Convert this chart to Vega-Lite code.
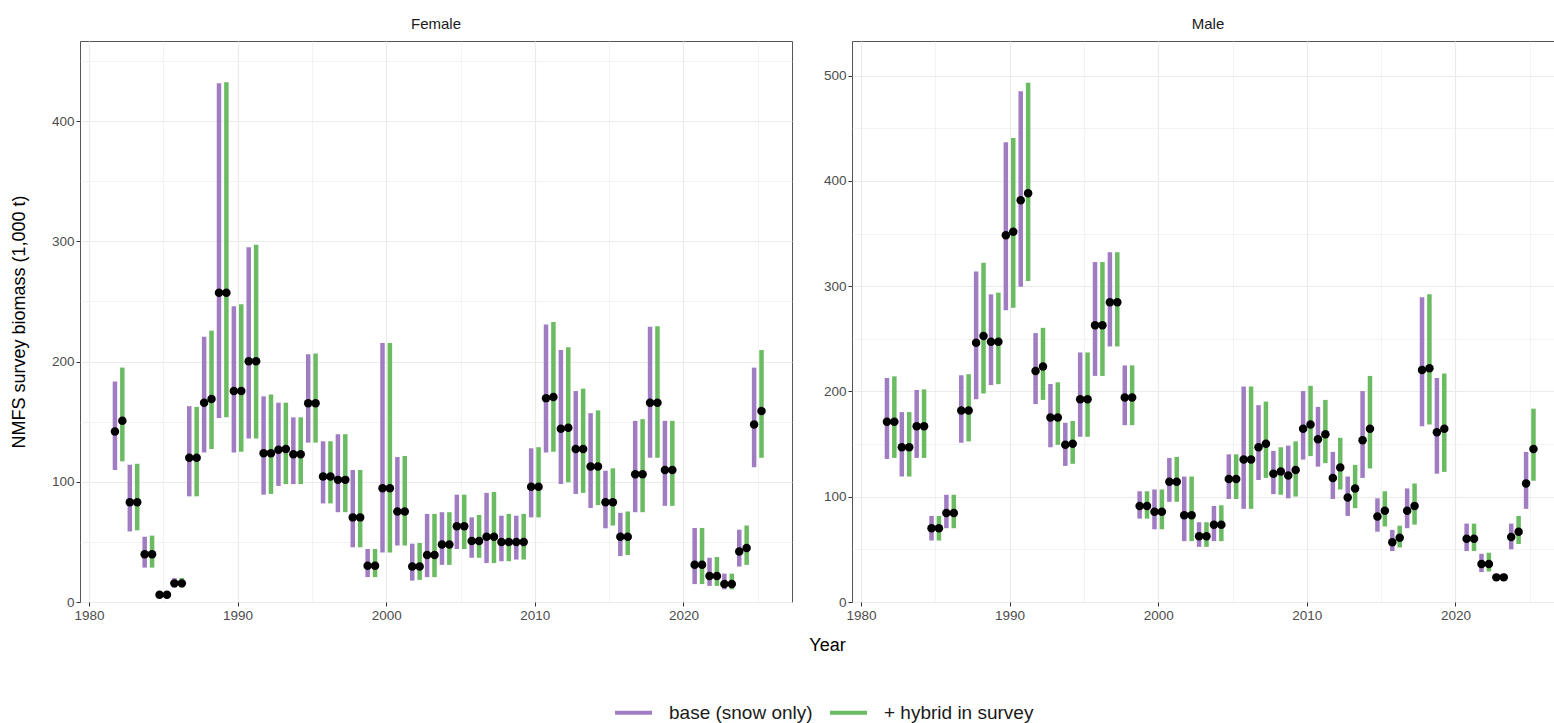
{
"$schema": "https://vega.github.io/schema/vega-lite/v6.json",
"background": "white",
"padding": {"left": 9, "top": 6, "right": 0, "bottom": 0},
"datasets": {
"panels": [{"sex": "Female"}, {"sex": "Male"}],
"d": [
{"sex":"Female","year":1982,"model":"base (snow only)","est":141.9,"lo":109.8,"hi":183.4},
{"sex":"Female","year":1982,"model":"+ hybrid in survey","est":150.7,"lo":117,"hi":195},
{"sex":"Female","year":1983,"model":"base (snow only)","est":82.9,"lo":58.7,"hi":114.2},
{"sex":"Female","year":1983,"model":"+ hybrid in survey","est":82.9,"lo":59.6,"hi":115},
{"sex":"Female","year":1984,"model":"base (snow only)","est":39.7,"lo":28.6,"hi":54.3},
{"sex":"Female","year":1984,"model":"+ hybrid in survey","est":39.7,"lo":28.6,"hi":55.2},
{"sex":"Female","year":1985,"model":"base (snow only)","est":6,"lo":4,"hi":8},
{"sex":"Female","year":1985,"model":"+ hybrid in survey","est":6,"lo":4,"hi":8.5},
{"sex":"Female","year":1986,"model":"base (snow only)","est":15.5,"lo":12,"hi":19.9},
{"sex":"Female","year":1986,"model":"+ hybrid in survey","est":15.5,"lo":12,"hi":20},
{"sex":"Female","year":1987,"model":"base (snow only)","est":120,"lo":87.9,"hi":162.9},
{"sex":"Female","year":1987,"model":"+ hybrid in survey","est":120,"lo":87.9,"hi":162.3},
{"sex":"Female","year":1988,"model":"base (snow only)","est":165.8,"lo":124.4,"hi":220.7},
{"sex":"Female","year":1988,"model":"+ hybrid in survey","est":168.8,"lo":127.3,"hi":225.7},
{"sex":"Female","year":1989,"model":"base (snow only)","est":257.2,"lo":153,"hi":431.5},
{"sex":"Female","year":1989,"model":"+ hybrid in survey","est":257.2,"lo":153.6,"hi":432.4},
{"sex":"Female","year":1990,"model":"base (snow only)","est":175.5,"lo":124.4,"hi":246.1},
{"sex":"Female","year":1990,"model":"+ hybrid in survey","est":175.5,"lo":125,"hi":247.6},
{"sex":"Female","year":1991,"model":"base (snow only)","est":200.3,"lo":136.1,"hi":295.2},
{"sex":"Female","year":1991,"model":"+ hybrid in survey","est":200.3,"lo":136.1,"hi":297.2},
{"sex":"Female","year":1992,"model":"base (snow only)","est":123.8,"lo":89.3,"hi":171.1},
{"sex":"Female","year":1992,"model":"+ hybrid in survey","est":123.8,"lo":89.9,"hi":172.6},
{"sex":"Female","year":1993,"model":"base (snow only)","est":126.7,"lo":96.6,"hi":165.8},
{"sex":"Female","year":1993,"model":"+ hybrid in survey","est":127.3,"lo":98.1,"hi":165.8},
{"sex":"Female","year":1994,"model":"base (snow only)","est":122.9,"lo":98.1,"hi":153.6},
{"sex":"Female","year":1994,"model":"+ hybrid in survey","est":122.9,"lo":98.1,"hi":153.6},
{"sex":"Female","year":1995,"model":"base (snow only)","est":165.3,"lo":132.6,"hi":206.1},
{"sex":"Female","year":1995,"model":"+ hybrid in survey","est":165.3,"lo":132.6,"hi":206.7},
{"sex":"Female","year":1996,"model":"base (snow only)","est":104.5,"lo":82,"hi":133.7},
{"sex":"Female","year":1996,"model":"+ hybrid in survey","est":104.5,"lo":82,"hi":133.7},
{"sex":"Female","year":1997,"model":"base (snow only)","est":101.6,"lo":74.7,"hi":139.6},
{"sex":"Female","year":1997,"model":"+ hybrid in survey","est":101.6,"lo":74.7,"hi":139.6},
{"sex":"Female","year":1998,"model":"base (snow only)","est":70.4,"lo":45.5,"hi":109.8},
{"sex":"Female","year":1998,"model":"+ hybrid in survey","est":70.4,"lo":45.5,"hi":109.8},
{"sex":"Female","year":1999,"model":"base (snow only)","est":30.1,"lo":20.7,"hi":44.1},
{"sex":"Female","year":1999,"model":"+ hybrid in survey","est":30.1,"lo":20.7,"hi":44.1},
{"sex":"Female","year":2000,"model":"base (snow only)","est":94.6,"lo":41.2,"hi":215.5},
{"sex":"Female","year":2000,"model":"+ hybrid in survey","est":94.6,"lo":41.2,"hi":215.5},
{"sex":"Female","year":2001,"model":"base (snow only)","est":75.3,"lo":47,"hi":120.6},
{"sex":"Female","year":2001,"model":"+ hybrid in survey","est":75.3,"lo":47,"hi":121.5},
{"sex":"Female","year":2002,"model":"base (snow only)","est":29.5,"lo":17.8,"hi":48.5},
{"sex":"Female","year":2002,"model":"+ hybrid in survey","est":29.5,"lo":18.4,"hi":49.1},
{"sex":"Female","year":2003,"model":"base (snow only)","est":39.1,"lo":20.7,"hi":73.3},
{"sex":"Female","year":2003,"model":"+ hybrid in survey","est":39.1,"lo":20.7,"hi":73.3},
{"sex":"Female","year":2004,"model":"base (snow only)","est":47.9,"lo":30.9,"hi":74.7},
{"sex":"Female","year":2004,"model":"+ hybrid in survey","est":47.9,"lo":30.9,"hi":74.7},
{"sex":"Female","year":2005,"model":"base (snow only)","est":63.1,"lo":44.1,"hi":89.3},
{"sex":"Female","year":2005,"model":"+ hybrid in survey","est":63.1,"lo":44.1,"hi":89.3},
{"sex":"Female","year":2006,"model":"base (snow only)","est":50.8,"lo":36.8,"hi":70.4},
{"sex":"Female","year":2006,"model":"+ hybrid in survey","est":50.8,"lo":36.8,"hi":72.4},
{"sex":"Female","year":2007,"model":"base (snow only)","est":54.3,"lo":32.4,"hi":90.8},
{"sex":"Female","year":2007,"model":"+ hybrid in survey","est":54.3,"lo":32.4,"hi":91.5},
{"sex":"Female","year":2008,"model":"base (snow only)","est":49.9,"lo":33.9,"hi":71.8},
{"sex":"Female","year":2008,"model":"+ hybrid in survey","est":49.9,"lo":33.9,"hi":73.3},
{"sex":"Female","year":2009,"model":"base (snow only)","est":49.9,"lo":35.3,"hi":71.8},
{"sex":"Female","year":2009,"model":"+ hybrid in survey","est":49.9,"lo":35.3,"hi":73.3},
{"sex":"Female","year":2010,"model":"base (snow only)","est":95.8,"lo":70.4,"hi":127.9},
{"sex":"Female","year":2010,"model":"+ hybrid in survey","est":95.8,"lo":70.4,"hi":128.8},
{"sex":"Female","year":2011,"model":"base (snow only)","est":169.6,"lo":124.4,"hi":230.9},
{"sex":"Female","year":2011,"model":"+ hybrid in survey","est":170.5,"lo":125,"hi":233},
{"sex":"Female","year":2012,"model":"base (snow only)","est":144.2,"lo":98.1,"hi":209.6},
{"sex":"Female","year":2012,"model":"+ hybrid in survey","est":145,"lo":99.6,"hi":212},
{"sex":"Female","year":2013,"model":"base (snow only)","est":127.3,"lo":89.9,"hi":175.5},
{"sex":"Female","year":2013,"model":"+ hybrid in survey","est":127.3,"lo":90.8,"hi":177.5},
{"sex":"Female","year":2014,"model":"base (snow only)","est":112.7,"lo":78.2,"hi":157.1},
{"sex":"Female","year":2014,"model":"+ hybrid in survey","est":112.7,"lo":80.6,"hi":159.4},
{"sex":"Female","year":2015,"model":"base (snow only)","est":82.9,"lo":61.3,"hi":109.2},
{"sex":"Female","year":2015,"model":"+ hybrid in survey","est":82.9,"lo":63.6,"hi":111.2},
{"sex":"Female","year":2016,"model":"base (snow only)","est":54.3,"lo":38.2,"hi":74.2},
{"sex":"Female","year":2016,"model":"+ hybrid in survey","est":54.3,"lo":39.1,"hi":75.3},
{"sex":"Female","year":2017,"model":"base (snow only)","est":106.3,"lo":74.7,"hi":150.7},
{"sex":"Female","year":2017,"model":"+ hybrid in survey","est":106.3,"lo":74.7,"hi":152.1},
{"sex":"Female","year":2018,"model":"base (snow only)","est":165.8,"lo":120,"hi":228.9},
{"sex":"Female","year":2018,"model":"+ hybrid in survey","est":165.8,"lo":120,"hi":229.5},
{"sex":"Female","year":2019,"model":"base (snow only)","est":109.8,"lo":80,"hi":150.7},
{"sex":"Female","year":2019,"model":"+ hybrid in survey","est":109.8,"lo":80,"hi":150.7},
{"sex":"Female","year":2021,"model":"base (snow only)","est":30.9,"lo":14.9,"hi":61.6},
{"sex":"Female","year":2021,"model":"+ hybrid in survey","est":30.9,"lo":14.9,"hi":61.6},
{"sex":"Female","year":2022,"model":"base (snow only)","est":21.6,"lo":13.4,"hi":36.8},
{"sex":"Female","year":2022,"model":"+ hybrid in survey","est":21.6,"lo":13.4,"hi":37.4},
{"sex":"Female","year":2023,"model":"base (snow only)","est":14.9,"lo":10.5,"hi":23.6},
{"sex":"Female","year":2023,"model":"+ hybrid in survey","est":14.9,"lo":10.5,"hi":23.6},
{"sex":"Female","year":2024,"model":"base (snow only)","est":42,"lo":29.5,"hi":60.1},
{"sex":"Female","year":2024,"model":"+ hybrid in survey","est":45,"lo":30.9,"hi":63.6},
{"sex":"Female","year":2025,"model":"base (snow only)","est":147.7,"lo":112.1,"hi":195},
{"sex":"Female","year":2025,"model":"+ hybrid in survey","est":158.8,"lo":120,"hi":209.6},
{"sex":"Male","year":1982,"model":"base (snow only)","est":171.3,"lo":135.9,"hi":212.8},
{"sex":"Male","year":1982,"model":"+ hybrid in survey","est":171.3,"lo":136.9,"hi":214.4},
{"sex":"Male","year":1983,"model":"base (snow only)","est":147,"lo":119.2,"hi":180.4},
{"sex":"Male","year":1983,"model":"+ hybrid in survey","est":147,"lo":119.2,"hi":180.4},
{"sex":"Male","year":1984,"model":"base (snow only)","est":167,"lo":136.9,"hi":201.4},
{"sex":"Male","year":1984,"model":"+ hybrid in survey","est":167,"lo":136.9,"hi":202},
{"sex":"Male","year":1985,"model":"base (snow only)","est":70.1,"lo":58.4,"hi":81.8},
{"sex":"Male","year":1985,"model":"+ hybrid in survey","est":70.1,"lo":58.4,"hi":81.8},
{"sex":"Male","year":1986,"model":"base (snow only)","est":84.5,"lo":70.1,"hi":101.9},
{"sex":"Male","year":1986,"model":"+ hybrid in survey","est":84.5,"lo":70.1,"hi":101.9},
{"sex":"Male","year":1987,"model":"base (snow only)","est":182,"lo":151.3,"hi":215.4},
{"sex":"Male","year":1987,"model":"+ hybrid in survey","est":182,"lo":152.6,"hi":216.4},
{"sex":"Male","year":1988,"model":"base (snow only)","est":246.2,"lo":192.7,"hi":314},
{"sex":"Male","year":1988,"model":"+ hybrid in survey","est":252.8,"lo":198,"hi":322.3},
{"sex":"Male","year":1989,"model":"base (snow only)","est":247.2,"lo":206.1,"hi":292.3},
{"sex":"Male","year":1989,"model":"+ hybrid in survey","est":247.2,"lo":207,"hi":293.9},
{"sex":"Male","year":1990,"model":"base (snow only)","est":348.4,"lo":277.2,"hi":436.9},
{"sex":"Male","year":1990,"model":"+ hybrid in survey","est":351.7,"lo":279.6,"hi":440.9},
{"sex":"Male","year":1991,"model":"base (snow only)","est":381.8,"lo":299.6,"hi":485.3},
{"sex":"Male","year":1991,"model":"+ hybrid in survey","est":388.4,"lo":304.9,"hi":493.3},
{"sex":"Male","year":1992,"model":"base (snow only)","est":219.4,"lo":188,"hi":255.5},
{"sex":"Male","year":1992,"model":"+ hybrid in survey","est":223.8,"lo":192,"hi":260.5},
{"sex":"Male","year":1993,"model":"base (snow only)","est":175.4,"lo":147,"hi":207.1},
{"sex":"Male","year":1993,"model":"+ hybrid in survey","est":175.4,"lo":149.3,"hi":208.7},
{"sex":"Male","year":1994,"model":"base (snow only)","est":149.3,"lo":129.3,"hi":170.3},
{"sex":"Male","year":1994,"model":"+ hybrid in survey","est":150.3,"lo":131.3,"hi":172},
{"sex":"Male","year":1995,"model":"base (snow only)","est":192.7,"lo":157,"hi":237.1},
{"sex":"Male","year":1995,"model":"+ hybrid in survey","est":192.7,"lo":157,"hi":237.1},
{"sex":"Male","year":1996,"model":"base (snow only)","est":262.9,"lo":214.8,"hi":323},
{"sex":"Male","year":1996,"model":"+ hybrid in survey","est":262.9,"lo":214.8,"hi":323},
{"sex":"Male","year":1997,"model":"base (snow only)","est":284.9,"lo":242.8,"hi":332.3},
{"sex":"Male","year":1997,"model":"+ hybrid in survey","est":284.9,"lo":242.8,"hi":332.3},
{"sex":"Male","year":1998,"model":"base (snow only)","est":194.4,"lo":168,"hi":224.8},
{"sex":"Male","year":1998,"model":"+ hybrid in survey","est":194.4,"lo":168,"hi":224.8},
{"sex":"Male","year":1999,"model":"base (snow only)","est":91.2,"lo":79.2,"hi":105.2},
{"sex":"Male","year":1999,"model":"+ hybrid in survey","est":91.2,"lo":79.2,"hi":105.2},
{"sex":"Male","year":2000,"model":"base (snow only)","est":85.8,"lo":69.1,"hi":106.9},
{"sex":"Male","year":2000,"model":"+ hybrid in survey","est":85.8,"lo":69.1,"hi":106.9},
{"sex":"Male","year":2001,"model":"base (snow only)","est":114.2,"lo":95.2,"hi":136.9},
{"sex":"Male","year":2001,"model":"+ hybrid in survey","est":114.2,"lo":95.2,"hi":137.9},
{"sex":"Male","year":2002,"model":"base (snow only)","est":82.5,"lo":57.8,"hi":119.2},
{"sex":"Male","year":2002,"model":"+ hybrid in survey","est":82.5,"lo":57.8,"hi":119.2},
{"sex":"Male","year":2003,"model":"base (snow only)","est":62.5,"lo":52.4,"hi":75.8},
{"sex":"Male","year":2003,"model":"+ hybrid in survey","est":62.5,"lo":52.4,"hi":75.8},
{"sex":"Male","year":2004,"model":"base (snow only)","est":73.5,"lo":57.8,"hi":91.2},
{"sex":"Male","year":2004,"model":"+ hybrid in survey","est":73.5,"lo":57.8,"hi":91.9},
{"sex":"Male","year":2005,"model":"base (snow only)","est":116.9,"lo":97.9,"hi":140.3},
{"sex":"Male","year":2005,"model":"+ hybrid in survey","est":116.9,"lo":97.9,"hi":140.3},
{"sex":"Male","year":2006,"model":"base (snow only)","est":135.3,"lo":88.5,"hi":204.7},
{"sex":"Male","year":2006,"model":"+ hybrid in survey","est":135.3,"lo":88.5,"hi":204.7},
{"sex":"Male","year":2007,"model":"base (snow only)","est":147,"lo":115.9,"hi":187},
{"sex":"Male","year":2007,"model":"+ hybrid in survey","est":150.3,"lo":117.9,"hi":190.4},
{"sex":"Male","year":2008,"model":"base (snow only)","est":121.9,"lo":102.5,"hi":143.6},
{"sex":"Male","year":2008,"model":"+ hybrid in survey","est":124,"lo":101.9,"hi":147},
{"sex":"Male","year":2009,"model":"base (snow only)","est":120.2,"lo":98.5,"hi":148.6},
{"sex":"Male","year":2009,"model":"+ hybrid in survey","est":125.3,"lo":100.2,"hi":152.6},
{"sex":"Male","year":2010,"model":"base (snow only)","est":164.7,"lo":135.3,"hi":200.4},
{"sex":"Male","year":2010,"model":"+ hybrid in survey","est":168.7,"lo":138.6,"hi":205.4},
{"sex":"Male","year":2011,"model":"base (snow only)","est":154.6,"lo":128.6,"hi":185.4},
{"sex":"Male","year":2011,"model":"+ hybrid in survey","est":159.3,"lo":131.9,"hi":192},
{"sex":"Male","year":2012,"model":"base (snow only)","est":117.9,"lo":97.9,"hi":142.6},
{"sex":"Male","year":2012,"model":"+ hybrid in survey","est":127.9,"lo":106.9,"hi":156},
{"sex":"Male","year":2013,"model":"base (snow only)","est":99.2,"lo":81.8,"hi":119.2},
{"sex":"Male","year":2013,"model":"+ hybrid in survey","est":107.9,"lo":89.2,"hi":130.3},
{"sex":"Male","year":2014,"model":"base (snow only)","est":153.6,"lo":117.9,"hi":200.4},
{"sex":"Male","year":2014,"model":"+ hybrid in survey","est":164.7,"lo":126.9,"hi":214.8},
{"sex":"Male","year":2015,"model":"base (snow only)","est":81.2,"lo":66.8,"hi":98.5},
{"sex":"Male","year":2015,"model":"+ hybrid in survey","est":86.8,"lo":71.8,"hi":105.2},
{"sex":"Male","year":2016,"model":"base (snow only)","est":56.8,"lo":48.4,"hi":68.5},
{"sex":"Male","year":2016,"model":"+ hybrid in survey","est":61.1,"lo":51.8,"hi":72.5},
{"sex":"Male","year":2017,"model":"base (snow only)","est":86.8,"lo":70.1,"hi":107.9},
{"sex":"Male","year":2017,"model":"+ hybrid in survey","est":91.2,"lo":73.5,"hi":112.6},
{"sex":"Male","year":2018,"model":"base (snow only)","est":220.4,"lo":167,"hi":289.6},
{"sex":"Male","year":2018,"model":"+ hybrid in survey","est":222.1,"lo":168.7,"hi":292.3},
{"sex":"Male","year":2019,"model":"base (snow only)","est":161.3,"lo":121.9,"hi":212.8},
{"sex":"Male","year":2019,"model":"+ hybrid in survey","est":164.7,"lo":123.6,"hi":217.1},
{"sex":"Male","year":2021,"model":"base (snow only)","est":60.1,"lo":48.4,"hi":74.5},
{"sex":"Male","year":2021,"model":"+ hybrid in survey","est":60.1,"lo":48.4,"hi":74.5},
{"sex":"Male","year":2022,"model":"base (snow only)","est":36.1,"lo":28.4,"hi":45.8},
{"sex":"Male","year":2022,"model":"+ hybrid in survey","est":36.1,"lo":29,"hi":46.8},
{"sex":"Male","year":2023,"model":"base (snow only)","est":23.4,"lo":20,"hi":26.7},
{"sex":"Male","year":2023,"model":"+ hybrid in survey","est":23.4,"lo":20,"hi":27},
{"sex":"Male","year":2024,"model":"base (snow only)","est":61.8,"lo":50.1,"hi":74.5},
{"sex":"Male","year":2024,"model":"+ hybrid in survey","est":66.8,"lo":55.1,"hi":81.8},
{"sex":"Male","year":2025,"model":"base (snow only)","est":112.6,"lo":88.5,"hi":142.6},
{"sex":"Male","year":2025,"model":"+ hybrid in survey","est":145.3,"lo":115.2,"hi":183.7}
]
},
"data": {"name": "d"},
"spacing": -24,
"hconcat": [
{
"bounds": "flush",
"spacing": 0,
"vconcat": [
{"width": 712, "height": 35, "data": {"name": "panels"}, "transform": [{"filter": "datum.sex === 'Female'"}],
 "mark": {"type": "text", "fontSize": 15, "color": "#1a1a1a", "font": "Liberation Sans"},
 "encoding": {"text": {"field": "sex", "type": "nominal"}}},
{"width": 712, "height": 561,
 "transform": [{"filter": "datum.sex === 'Female'"}],
 "encoding": {"x": {"field": "year", "type": "quantitative", "scale": {"domain": [1979.4, 2027.3], "nice": false, "zero": false},
   "axis": {"values": [1980,1985,1990,1995,2000,2005,2010,2015,2020,2025], "format": "d",
     "labelExpr": "datum.value % 10 === 0 ? datum.label : ''",
     "tickOpacity": {"condition": {"test": "datum.value % 10 === 0", "value": 1}, "value": 0},
     "gridWidth": {"condition": {"test": "datum.value % 10 === 0", "value": 1.2}, "value": 0.6},
     "title": "Year", "titleX": 747, "titleY": 43, "titleBaseline": "middle", "titleAlign": "center"}}},
 "layer": [
  {"transform": [{"filter": "datum.model === 'base (snow only)'"}],
   "mark": {"type": "rule", "strokeWidth": 4.5, "xOffset": -3.7},
   "encoding": {
    "y": {"field": "lo", "type": "quantitative", "scale": {"domain": [0, 466.7], "nice": false, "zero": false},
      "axis": {"values": [0,50,100,150,200,250,300,350,400,450], "labelExpr": "datum.value % 100 === 0 ? datum.label : ''",
        "tickOpacity": {"condition": {"test": "datum.value % 100 === 0", "value": 1}, "value": 0},
        "gridWidth": {"condition": {"test": "datum.value % 100 === 0", "value": 1.2}, "value": 0.6},
        "title": "NMFS survey biomass (1,000 t)", "titleX": -61, "titleY": 280.5, "titleAngle": -90, "titleBaseline": "middle", "titleAlign": "center"}},
    "y2": {"field": "hi"},
    "color": {"field": "model", "type": "nominal", "scale": {"domain": ["base (snow only)", "+ hybrid in survey"], "range": ["#A07DC2", "#6ABB62"]},
      "legend": {"orient": "none", "legendX": 533, "legendY": 686, "direction": "horizontal", "title": null, "symbolType": "stroke", "symbolStrokeWidth": 4, "symbolSize": 1369, "labelFontSize": 19, "labelColor": "#1a1a1a", "labelOffset": 15, "columnPadding": 9}}}},
  {"transform": [{"filter": "datum.model === '+ hybrid in survey'"}],
   "mark": {"type": "rule", "strokeWidth": 4.5, "xOffset": 3.7},
   "encoding": {
    "y": {"field": "lo", "type": "quantitative", "scale": {"domain": [0, 466.7], "nice": false, "zero": false},
      "axis": {"values": [0,50,100,150,200,250,300,350,400,450], "labelExpr": "datum.value % 100 === 0 ? datum.label : ''",
        "tickOpacity": {"condition": {"test": "datum.value % 100 === 0", "value": 1}, "value": 0},
        "gridWidth": {"condition": {"test": "datum.value % 100 === 0", "value": 1.2}, "value": 0.6},
        "title": "NMFS survey biomass (1,000 t)", "titleX": -61, "titleY": 280.5, "titleAngle": -90, "titleBaseline": "middle", "titleAlign": "center"}},
    "y2": {"field": "hi"},
    "color": {"field": "model", "type": "nominal", "scale": {"domain": ["base (snow only)", "+ hybrid in survey"], "range": ["#A07DC2", "#6ABB62"]},
      "legend": {"orient": "none", "legendX": 533, "legendY": 686, "direction": "horizontal", "title": null, "symbolType": "stroke", "symbolStrokeWidth": 4, "symbolSize": 1369, "labelFontSize": 19, "labelColor": "#1a1a1a", "labelOffset": 15, "columnPadding": 9}}}},
  {"transform": [{"filter": "datum.model === 'base (snow only)'"}],
   "mark": {"type": "point", "filled": true, "color": "black", "opacity": 1, "size": 72, "xOffset": -3.7},
   "encoding": {
    "y": {"field": "est", "type": "quantitative", "scale": {"domain": [0, 466.7], "nice": false, "zero": false},
      "axis": {"values": [0,50,100,150,200,250,300,350,400,450], "labelExpr": "datum.value % 100 === 0 ? datum.label : ''",
        "tickOpacity": {"condition": {"test": "datum.value % 100 === 0", "value": 1}, "value": 0},
        "gridWidth": {"condition": {"test": "datum.value % 100 === 0", "value": 1.2}, "value": 0.6},
        "title": "NMFS survey biomass (1,000 t)", "titleX": -61, "titleY": 280.5, "titleAngle": -90, "titleBaseline": "middle", "titleAlign": "center"}}}},
  {"transform": [{"filter": "datum.model === '+ hybrid in survey'"}],
   "mark": {"type": "point", "filled": true, "color": "black", "opacity": 1, "size": 72, "xOffset": 3.7},
   "encoding": {
    "y": {"field": "est", "type": "quantitative", "scale": {"domain": [0, 466.7], "nice": false, "zero": false},
      "axis": {"values": [0,50,100,150,200,250,300,350,400,450], "labelExpr": "datum.value % 100 === 0 ? datum.label : ''",
        "tickOpacity": {"condition": {"test": "datum.value % 100 === 0", "value": 1}, "value": 0},
        "gridWidth": {"condition": {"test": "datum.value % 100 === 0", "value": 1.2}, "value": 0.6},
        "title": "NMFS survey biomass (1,000 t)", "titleX": -61, "titleY": 280.5, "titleAngle": -90, "titleBaseline": "middle", "titleAlign": "center"}}}}
 ]}
]
},
{
"bounds": "flush",
"spacing": 0,
"vconcat": [
{"width": 702, "height": 35, "data": {"name": "panels"}, "transform": [{"filter": "datum.sex === 'Male'"}],
 "mark": {"type": "text", "fontSize": 15, "color": "#1a1a1a", "font": "Liberation Sans", "dx": 5},
 "encoding": {"text": {"field": "sex", "type": "nominal"}}},
{"width": 702, "height": 561,
 "transform": [{"filter": "datum.sex === 'Male'"}],
 "encoding": {"x": {"field": "year", "type": "quantitative", "scale": {"domain": [1979.4, 2026.63], "nice": false, "zero": false},
   "axis": {"values": [1980,1985,1990,1995,2000,2005,2010,2015,2020,2025], "format": "d",
     "labelExpr": "datum.value % 10 === 0 ? datum.label : ''",
     "tickOpacity": {"condition": {"test": "datum.value % 10 === 0", "value": 1}, "value": 0},
     "gridWidth": {"condition": {"test": "datum.value % 10 === 0", "value": 1.2}, "value": 0.6},
     "title": null}}},
 "layer": [
  {"transform": [{"filter": "datum.model === 'base (snow only)'"}],
   "mark": {"type": "rule", "strokeWidth": 4.5, "xOffset": -3.7},
   "encoding": {
    "y": {"field": "lo", "type": "quantitative", "scale": {"domain": [0, 533], "nice": false, "zero": false},
      "axis": {"values": [0,50,100,150,200,250,300,350,400,450,500], "labelExpr": "datum.value % 100 === 0 ? datum.label : ''",
        "tickOpacity": {"condition": {"test": "datum.value % 100 === 0", "value": 1}, "value": 0},
        "gridWidth": {"condition": {"test": "datum.value % 100 === 0", "value": 1.2}, "value": 0.6},
        "title": null}},
    "y2": {"field": "hi"},
    "color": {"field": "model", "type": "nominal", "scale": {"domain": ["base (snow only)", "+ hybrid in survey"], "range": ["#A07DC2", "#6ABB62"]},
      "legend": {"orient": "none", "legendX": 533, "legendY": 686, "direction": "horizontal", "title": null, "symbolType": "stroke", "symbolStrokeWidth": 4, "symbolSize": 1369, "labelFontSize": 19, "labelColor": "#1a1a1a", "labelOffset": 15, "columnPadding": 9}}}},
  {"transform": [{"filter": "datum.model === '+ hybrid in survey'"}],
   "mark": {"type": "rule", "strokeWidth": 4.5, "xOffset": 3.7},
   "encoding": {
    "y": {"field": "lo", "type": "quantitative", "scale": {"domain": [0, 533], "nice": false, "zero": false},
      "axis": {"values": [0,50,100,150,200,250,300,350,400,450,500], "labelExpr": "datum.value % 100 === 0 ? datum.label : ''",
        "tickOpacity": {"condition": {"test": "datum.value % 100 === 0", "value": 1}, "value": 0},
        "gridWidth": {"condition": {"test": "datum.value % 100 === 0", "value": 1.2}, "value": 0.6},
        "title": null}},
    "y2": {"field": "hi"},
    "color": {"field": "model", "type": "nominal", "scale": {"domain": ["base (snow only)", "+ hybrid in survey"], "range": ["#A07DC2", "#6ABB62"]},
      "legend": {"orient": "none", "legendX": 533, "legendY": 686, "direction": "horizontal", "title": null, "symbolType": "stroke", "symbolStrokeWidth": 4, "symbolSize": 1369, "labelFontSize": 19, "labelColor": "#1a1a1a", "labelOffset": 15, "columnPadding": 9}}}},
  {"transform": [{"filter": "datum.model === 'base (snow only)'"}],
   "mark": {"type": "point", "filled": true, "color": "black", "opacity": 1, "size": 72, "xOffset": -3.7},
   "encoding": {
    "y": {"field": "est", "type": "quantitative", "scale": {"domain": [0, 533], "nice": false, "zero": false},
      "axis": {"values": [0,50,100,150,200,250,300,350,400,450,500], "labelExpr": "datum.value % 100 === 0 ? datum.label : ''",
        "tickOpacity": {"condition": {"test": "datum.value % 100 === 0", "value": 1}, "value": 0},
        "gridWidth": {"condition": {"test": "datum.value % 100 === 0", "value": 1.2}, "value": 0.6},
        "title": null}}}},
  {"transform": [{"filter": "datum.model === '+ hybrid in survey'"}],
   "mark": {"type": "point", "filled": true, "color": "black", "opacity": 1, "size": 72, "xOffset": 3.7},
   "encoding": {
    "y": {"field": "est", "type": "quantitative", "scale": {"domain": [0, 533], "nice": false, "zero": false},
      "axis": {"values": [0,50,100,150,200,250,300,350,400,450,500], "labelExpr": "datum.value % 100 === 0 ? datum.label : ''",
        "tickOpacity": {"condition": {"test": "datum.value % 100 === 0", "value": 1}, "value": 0},
        "gridWidth": {"condition": {"test": "datum.value % 100 === 0", "value": 1.2}, "value": 0.6},
        "title": null}}}}
 ]}
]
}
],
"resolve": {"scale": {"color": "shared"}},
"config": {
 "font": "Liberation Sans",
 "view": {"stroke": "#555555", "strokeWidth": 1},
 "axis": {"domain": false, "tickColor": "#333333", "tickSize": 4, "labelColor": "#4d4d4d", "labelFontSize": 13.5, "labelPadding": 2,
   "titleFontSize": 18, "titleFontWeight": "normal", "titleColor": "#000000", "gridColor": "#ebebeb"}
}
}
